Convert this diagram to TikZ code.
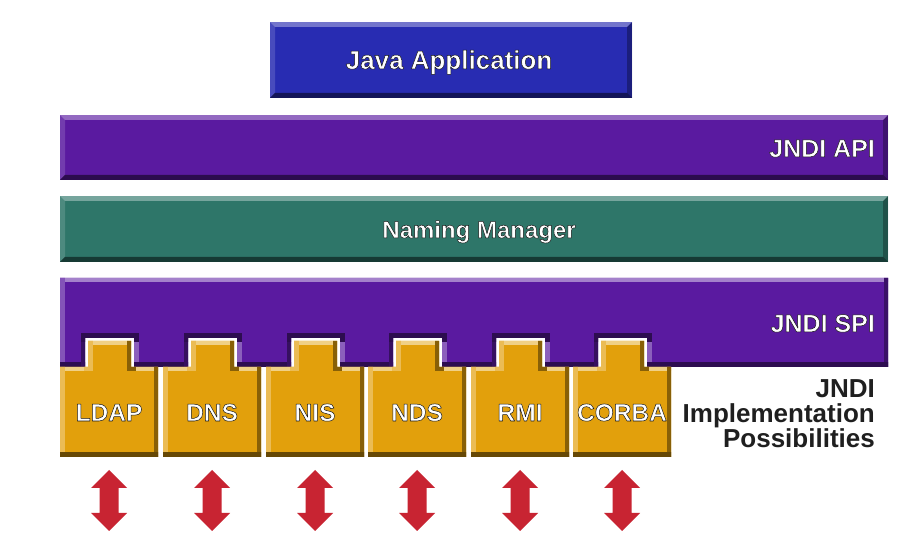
\documentclass[tikz,border=0pt]{standalone}
\usepackage{fontspec}
\setmainfont{Liberation Sans}
\definecolor{javablue}{RGB}{40,44,178}
\definecolor{purp}{RGB}{90,26,160}
\definecolor{teal2}{RGB}{46,118,105}
\definecolor{orng}{RGB}{226,160,12}
\definecolor{arrred}{RGB}{200,36,50}
% white text with a dark outline, drawn once (fill + stroke render mode)
\newcommand\glowtxt[1]{\textcolor{white}{\special{pdf:literal direct 2 Tr 0.5 w 1 j 0.1 0.1 0.1 RG}#1\special{pdf:literal direct 0 Tr}}}
\tikzset{
  bevelrect/.style={draw=none, inner sep=0pt, outer sep=0pt,
    path picture={
      \coordinate (bnw) at (path picture bounding box.north west);
      \coordinate (bne) at (path picture bounding box.north east);
      \coordinate (bsw) at (path picture bounding box.south west);
      \coordinate (bse) at (path picture bounding box.south east);
      \fill[white,opacity=.35] (bnw) -- (bne) -- ([shift={(-5pt,-5pt)}]bne) -- ([shift={(5pt,-5pt)}]bnw) -- cycle;
      \fill[white,opacity=.15] (bnw) -- ([shift={(5pt,-5pt)}]bnw) -- ([shift={(5pt,5pt)}]bsw) -- (bsw) -- cycle;
      \fill[black,opacity=.3] (bne) -- (bse) -- ([shift={(-5pt,5pt)}]bse) -- ([shift={(-5pt,-5pt)}]bne) -- cycle;
      \fill[black,opacity=.5] (bsw) -- (bse) -- ([shift={(-5pt,5pt)}]bse) -- ([shift={(5pt,5pt)}]bsw) -- cycle;
    }},
  lbl/.style={font=\bfseries\fontsize{25}{27}\selectfont, inner sep=0pt},
  boxlbl/.style={font=\bfseries\fontsize{24.5}{27}\selectfont, inner sep=0pt},
  blk/.style={font=\bfseries\fontsize{26}{26}\selectfont, inner sep=0pt, text=black!88},
  edge/.style={line width=9pt, line cap=rect},
  arrowshape/.style={fill=arrred, draw=none}
}
\begin{document}
\begin{tikzpicture}[x=1pt,y=-1pt]
\useasboundingbox (0,0) rectangle (898,537);
\fill[white] (0,0) rectangle (898,537);

% top layers
\node[bevelrect, fill=javablue, minimum width=362pt, minimum height=76pt] (app) at (451,60) {};
\node[lbl, font=\bfseries\fontsize{26}{27}\selectfont, anchor=base] (applbl) at (449,69) {\glowtxt{Java Application}};

\node[bevelrect, fill=purp, minimum width=828pt, minimum height=65pt] (api) at (474,147.5) {};
\node[lbl, anchor=base east] (apilbl) at (875,157) {\glowtxt{JNDI API}};

\node[bevelrect, fill=teal2, minimum width=828pt, minimum height=66pt] (nm) at (474,229) {};
\node[lbl, font=\bfseries\fontsize{24}{27}\selectfont, anchor=base] (nmlbl) at (479,238) {\glowtxt{Naming Manager}};

% JNDI SPI with notches
\def\spipath{(60,278) -- (888,278) -- (888,367) -- (647,367) -- (647,338) -- (598,338) -- (598,367)
 -- (545,367) -- (545,338) -- (496,338) -- (496,367) -- (442,367) -- (442,338) -- (393,338) -- (393,367)
 -- (340,367) -- (340,338) -- (291,338) -- (291,367) -- (237,367) -- (237,338) -- (188,338) -- (188,367)
 -- (134,367) -- (134,338) -- (85,338) -- (85,367) -- (60,367) -- cycle}
\fill[purp] \spipath;
\begin{scope}
  \clip \spipath;
  \draw[edge, purp!55!white] (60,278) -- (888,278);
  \draw[edge, purp!75!white] (60,278) -- (60,367);
  \foreach \x in {60,163,266,368,471,573}{
    \draw[edge, purp!70!white] (\x+74,338) -- (\x+74,367);
  }
  \draw[edge, purp!65!black] (888,278) -- (888,367);
  \draw[edge, purp!50!black] (60,367) -- (888,367);
  \foreach \x in {60,163,266,368,471,573}{
    \draw[edge, purp!60!black] (\x+25,338) -- (\x+25,367);
    \draw[edge, purp!50!black] (\x+25,338) -- (\x+74,338);
  }
\end{scope}
\node[lbl, anchor=base east] (spilbl) at (875,332) {\glowtxt{JNDI SPI}};

% implementation boxes
\foreach \x/\nm/\t in {60/ldap/LDAP,163/dns/DNS,266/nis/NIS,368/nds/NDS,471/rmi/RMI,573/corba/CORBA}{
  \def\boxpath{(\x,457) -- (\x,367) -- (\x+28,367) -- (\x+28,341) -- (\x+71,341) -- (\x+71,367) -- (\x+98,367) -- (\x+98,457) -- cycle}
  \fill[orng] \boxpath;
  \begin{scope}
    \clip \boxpath;
    \draw[edge, orng!50!white] (\x,367) -- (\x+28,367);
    \draw[edge, orng!50!white] (\x+71,367) -- (\x+98,367);
    \draw[edge, orng!50!white] (\x+28,341) -- (\x+71,341);
    \draw[edge, orng!70!white] (\x,367) -- (\x,457);
    \draw[edge, orng!70!white] (\x+28,341) -- (\x+28,367);
    \draw[edge, orng!60!black] (\x+71,341) -- (\x+71,367);
    \draw[edge, orng!60!black] (\x+98,367) -- (\x+98,457);
    \draw[edge, orng!45!black] (\x,457) -- (\x+98,457);
  \end{scope}
  \node[boxlbl, anchor=base] (\nm) at (\x+49,421) {\glowtxt{\t}};
  % red double arrow
  \fill[arrowshape] (\x+49,470) -- (\x+67,488) -- (\x+58.5,488) -- (\x+58.5,513) -- (\x+67,513) -- (\x+49,531)
     -- (\x+31,513) -- (\x+39.5,513) -- (\x+39.5,488) -- (\x+31,488) -- cycle;
}

\node[blk, anchor=base east] (impl1) at (875,398) {JNDI};
\node[blk, anchor=base east] (impl2) at (875,423) {Implementation};
\node[blk, anchor=base east] (impl3) at (875,448) {Possibilities};
\end{tikzpicture}
\end{document}
